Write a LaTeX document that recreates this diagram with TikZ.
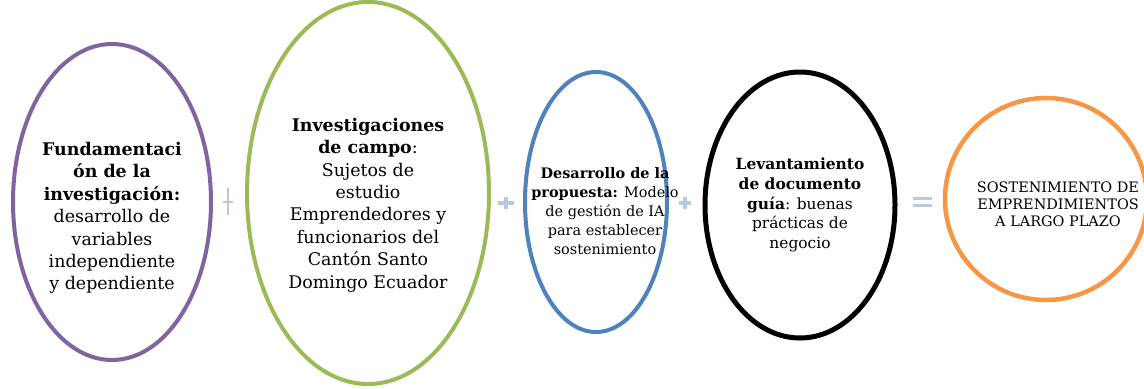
\documentclass[tikz,border=0pt]{standalone}
\usepackage{fontspec}
\setmainfont{DejaVu Serif}
\usetikzlibrary{shapes.geometric}
\definecolor{cpurple}{HTML}{8064A2}
\definecolor{cgreen}{HTML}{9BBB59}
\definecolor{cblue}{HTML}{4F81BD}
\definecolor{corange}{HTML}{F79646}
\definecolor{cop}{HTML}{B8C8DE}
\tikzset{
  oval/.style={draw, ellipse, inner sep=0pt},
  txt/.style={align=center, inner sep=0pt, text=black},
  opbar/.style={draw=cop, line cap=butt},
}
\begin{document}
\begin{tikzpicture}[x=1bp, y=-1bp]
\useasboundingbox (0,0) rectangle (1144,388);
% ellipses
\node[oval, draw=cpurple, line width=4bp, minimum width=198bp, minimum height=316bp] (e1) at (112,202) {};
\node[oval, draw=cgreen, line width=4bp, minimum width=242bp, minimum height=382bp] (e2) at (368,193) {};
\node[oval, draw=cblue, line width=4bp, minimum width=142bp, minimum height=260bp] (e3) at (596,202) {};
\node[oval, draw=black, line width=5bp, minimum width=190bp, minimum height=266bp] (e4) at (800,205) {};
\node[oval, draw=corange, line width=4.5bp, minimum width=202bp, minimum height=202bp] (e5) at (1046,199) {};
% texts
\node[txt, font=\fontsize{17.5}{22.5}\selectfont] (t1) at ([yshift=-16bp]e1.center) {\textbf{Fundamentaci}\\\textbf{ón de la}\\\textbf{investigación:}\\desarrollo de\\variables\\independiente\\y dependiente};
\node[txt, font=\fontsize{17.5}{22.5}\selectfont] (t2) at ([yshift=-12bp]e2.center) {\textbf{Investigaciones}\\\textbf{de campo}:\\Sujetos de\\estudio\\Emprendedores y\\funcionarios del\\Cantón Santo\\Domingo Ecuador};
\node[txt, font=\fontsize{14.5}{19}\selectfont] (t3) at ([xshift=9bp,yshift=-9bp]e3.center) {\textbf{Desarrollo de la}\\\textbf{propuesta:} Modelo\\de gestión de IA\\para establecer\\sostenimiento};
\node[txt, font=\fontsize{15.5}{19.8}\selectfont] (t4) at (e4.center) {\textbf{Levantamiento}\\\textbf{de documento}\\\textbf{guía}: buenas\\prácticas de\\negocio};
\node[txt, font=\fontsize{14.5}{17}\selectfont] (t5) at ([xshift=12bp,yshift=-5bp]e5.center) {SOSTENIMIENTO DE\\EMPRENDIMIENTOS\\A LARGO PLAZO};
% operators
\coordinate (p1) at (228,202);
\draw[opbar, line width=2.6bp] ([yshift=-13bp]p1) -- ([yshift=14bp]p1);
\draw[opbar, line width=2.6bp] ([xshift=-5bp]p1) -- ([xshift=5bp]p1);
\coordinate (p2) at (506,203);
\draw[opbar, line width=4bp] ([yshift=-6bp]p2) -- ([yshift=6bp]p2);
\draw[opbar, line width=4bp] ([xshift=-8bp]p2) -- ([xshift=8bp]p2);
\coordinate (p3) at (685,203);
\draw[opbar, line width=3.5bp] ([yshift=-6bp]p3) -- ([yshift=6bp]p3);
\draw[opbar, line width=3.5bp] ([xshift=-6bp]p3) -- ([xshift=6bp]p3);
\coordinate (q) at (922,202);
\draw[opbar, line width=3bp] ([xshift=-9.5bp,yshift=-3bp]q) -- ([xshift=9.5bp,yshift=-3bp]q);
\draw[opbar, line width=3bp] ([xshift=-9.5bp,yshift=3.5bp]q) -- ([xshift=9.5bp,yshift=3.5bp]q);
\end{tikzpicture}
\end{document}
